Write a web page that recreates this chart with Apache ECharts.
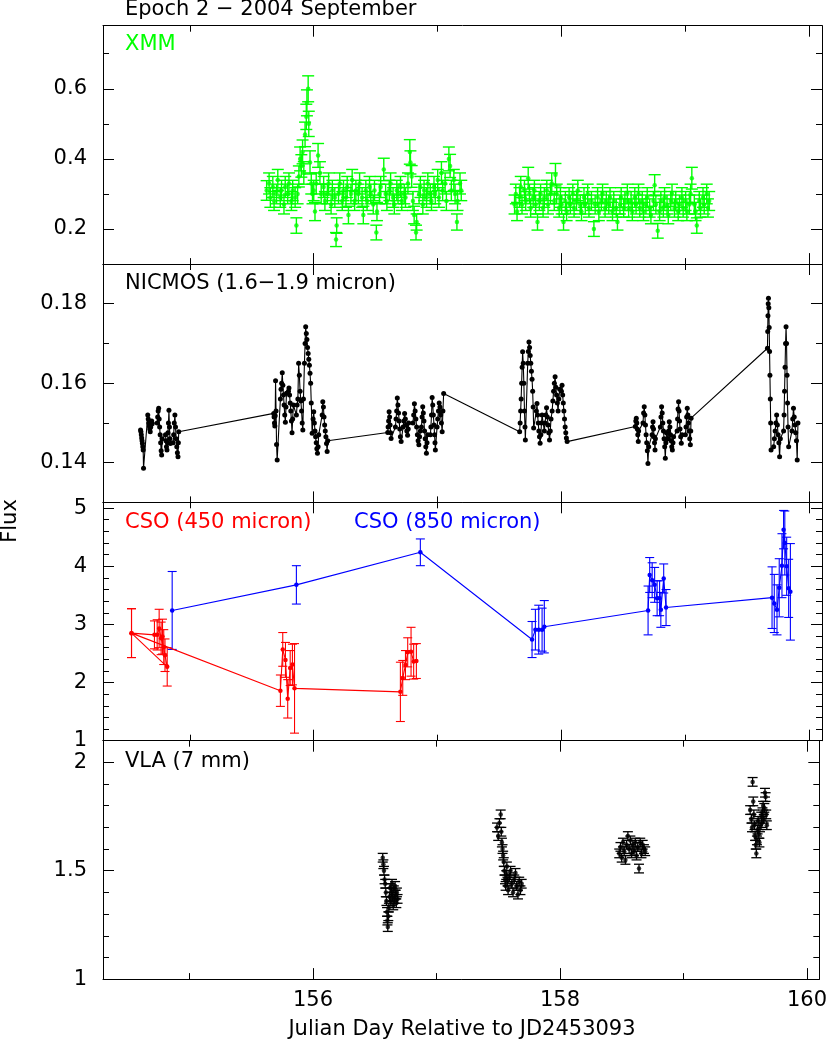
<!DOCTYPE html>
<html><head><meta charset="utf-8">
<script src="https://cdn.jsdelivr.net/npm/echarts@6/dist/echarts.min.js"></script>
<style>html,body{margin:0;padding:0;background:#fff}#c{width:830px;height:1043px}</style>
</head><body><div id="c"></div>
<script>
// ---------- tick labels ----------
const xMajorTicks = [156, 158, 160];
const xMinorTicks = [155, 157, 159];
const xmmYMajor = [0.2, 0.4, 0.6];
const xmmYMinor = [0.1, 0.3, 0.5, 0.7];
const nicYMajor = [0.14, 0.16, 0.18];
const nicYMinor = [0.13, 0.15, 0.17, 0.19];
const csoYMajor = [1, 2, 3, 4, 5];
const csoYMinor = [1.2,1.4,1.6,1.8,2.2,2.4,2.6,2.8,3.2,3.4,3.6,3.8,4.2,4.4,4.6,4.8];
const vlaYMajor = [1, 1.5, 2];
const vlaYMinor = [1.1,1.2,1.3,1.4,1.6,1.7,1.8,1.9];

// ---------- data: [JD-2453093, flux, error] ----------
const xmmSeg1 = [
[155.62,0.31,0.028],[155.64,0.33,0.03],[155.65,0.29,0.028],[155.67,0.32,0.03],[155.68,0.28,0.027],[155.70,0.30,0.028],[155.71,0.34,0.03],[155.73,0.29,0.028],[155.74,0.31,0.029],[155.76,0.27,0.027],[155.77,0.32,0.03],[155.79,0.30,0.028],[155.80,0.33,0.03],[155.82,0.28,0.027],[155.83,0.31,0.029],[155.85,0.29,0.028],[155.86,0.21,0.022],[155.87,0.30,0.028],[155.88,0.35,0.03],[155.89,0.40,0.034],[155.90,0.38,0.032],[155.91,0.42,0.034],[155.92,0.36,0.032],[155.93,0.47,0.035],[155.94,0.52,0.036],[155.945,0.56,0.037],[155.955,0.60,0.037],[155.96,0.50,0.036],[155.97,0.39,0.033],[155.98,0.33,0.03],[155.99,0.30,0.028],[156.00,0.31,0.029],[156.01,0.25,0.026],[156.02,0.33,0.03],[156.035,0.41,0.034],[156.05,0.36,0.032],[156.06,0.30,0.028],[156.08,0.32,0.03],[156.09,0.28,0.027],[156.11,0.30,0.028],[156.12,0.33,0.03],[156.14,0.27,0.027],[156.15,0.31,0.029],[156.17,0.29,0.028],[156.18,0.17,0.02],[156.185,0.21,0.022],[156.20,0.30,0.028],[156.21,0.33,0.03],[156.23,0.28,0.027],[156.24,0.31,0.029],[156.26,0.29,0.028],[156.27,0.32,0.03],[156.28,0.24,0.025],[156.30,0.30,0.028],[156.31,0.34,0.03],[156.33,0.28,0.027],[156.34,0.31,0.029],[156.36,0.30,0.028],[156.37,0.33,0.03],[156.39,0.29,0.028],[156.40,0.24,0.025],[156.42,0.31,0.029],[156.43,0.28,0.027],[156.45,0.32,0.03],[156.46,0.30,0.028],[156.48,0.27,0.027],[156.49,0.31,0.029],[156.505,0.19,0.021],[156.51,0.25,0.026],[156.53,0.30,0.028],[156.54,0.32,0.03],[156.565,0.37,0.032],[156.58,0.30,0.028],[156.59,0.28,0.027],[156.61,0.31,0.029],[156.62,0.33,0.03],[156.64,0.29,0.028],[156.65,0.27,0.027],[156.67,0.31,0.029],[156.68,0.30,0.028],[156.70,0.32,0.03],[156.71,0.28,0.027],[156.73,0.30,0.028],[156.74,0.29,0.028],[156.76,0.33,0.03],[156.775,0.42,0.035],[156.78,0.39,0.033],[156.79,0.35,0.031],[156.80,0.28,0.027],[156.81,0.24,0.025],[156.825,0.19,0.021],[156.83,0.22,0.023],[156.85,0.30,0.028],[156.86,0.32,0.03],[156.88,0.27,0.027],[156.89,0.31,0.029],[156.91,0.29,0.028],[156.92,0.33,0.03],[156.94,0.30,0.028],[156.95,0.28,0.027],[156.97,0.32,0.03],[156.98,0.30,0.028],[157.00,0.34,0.03],[157.01,0.29,0.028],[157.03,0.36,0.032],[157.04,0.31,0.029],[157.06,0.33,0.03],[157.07,0.28,0.027],[157.09,0.40,0.034],[157.10,0.38,0.033],[157.11,0.31,0.029],[157.13,0.34,0.03],[157.14,0.30,0.028],[157.155,0.22,0.023],[157.16,0.28,0.027],[157.18,0.33,0.03],[157.19,0.31,0.029]
];
const xmmSeg2 = [
[157.62,0.27,0.027],[157.63,0.30,0.028],[157.64,0.25,0.026],[157.66,0.29,0.028],[157.67,0.32,0.03],[157.68,0.27,0.027],[157.70,0.31,0.029],[157.71,0.28,0.027],[157.73,0.345,0.031],[157.74,0.30,0.028],[157.75,0.26,0.026],[157.77,0.29,0.028],[157.78,0.31,0.029],[157.79,0.27,0.027],[157.805,0.22,0.023],[157.82,0.28,0.027],[157.83,0.30,0.028],[157.85,0.26,0.026],[157.86,0.29,0.028],[157.88,0.31,0.029],[157.89,0.27,0.027],[157.91,0.30,0.028],[157.92,0.33,0.03],[157.94,0.28,0.027],[157.95,0.355,0.032],[157.96,0.30,0.028],[157.98,0.26,0.026],[157.99,0.29,0.028],[158.00,0.27,0.027],[158.015,0.22,0.023],[158.03,0.28,0.027],[158.04,0.25,0.026],[158.06,0.29,0.028],[158.07,0.27,0.027],[158.09,0.30,0.028],[158.10,0.26,0.026],[158.12,0.28,0.027],[158.13,0.31,0.029],[158.15,0.27,0.027],[158.16,0.25,0.026],[158.18,0.29,0.028],[158.19,0.27,0.027],[158.21,0.30,0.028],[158.22,0.26,0.026],[158.24,0.28,0.027],[158.26,0.20,0.021],[158.27,0.27,0.027],[158.29,0.29,0.028],[158.30,0.25,0.026],[158.32,0.28,0.027],[158.33,0.30,0.028],[158.35,0.26,0.026],[158.36,0.28,0.027],[158.38,0.27,0.027],[158.39,0.29,0.028],[158.41,0.25,0.026],[158.42,0.28,0.027],[158.44,0.26,0.026],[158.45,0.22,0.023],[158.47,0.27,0.027],[158.48,0.29,0.028],[158.50,0.26,0.026],[158.51,0.28,0.027],[158.53,0.30,0.028],[158.54,0.26,0.026],[158.56,0.28,0.027],[158.57,0.25,0.026],[158.59,0.29,0.028],[158.60,0.27,0.027],[158.62,0.30,0.028],[158.63,0.26,0.026],[158.65,0.28,0.027],[158.66,0.25,0.026],[158.68,0.27,0.027],[158.69,0.29,0.028],[158.71,0.26,0.026],[158.72,0.24,0.025],[158.74,0.28,0.027],[158.75,0.325,0.03],[158.76,0.27,0.027],[158.775,0.195,0.021],[158.79,0.25,0.026],[158.80,0.28,0.027],[158.82,0.26,0.026],[158.83,0.29,0.028],[158.85,0.27,0.027],[158.86,0.24,0.025],[158.88,0.28,0.027],[158.89,0.30,0.028],[158.91,0.26,0.026],[158.92,0.28,0.027],[158.94,0.25,0.026],[158.95,0.27,0.027],[158.97,0.29,0.028],[158.98,0.26,0.026],[159.00,0.28,0.027],[159.01,0.25,0.026],[159.03,0.27,0.027],[159.04,0.30,0.028],[159.05,0.345,0.031],[159.07,0.27,0.027],[159.08,0.25,0.026],[159.09,0.21,0.022],[159.11,0.28,0.027],[159.12,0.26,0.026],[159.14,0.29,0.028],[159.15,0.27,0.027],[159.17,0.30,0.028],[159.18,0.26,0.026],[159.19,0.28,0.027]
];

const nicmos = [
[154.603,0.1482],[154.606,0.1478],[154.609,0.1470],[154.612,0.1462],[154.615,0.1455],[154.618,0.1448],[154.621,0.1440],[154.624,0.1432],[154.627,0.1386],
[154.661,0.1520],[154.665,0.1510],[154.669,0.1500],[154.673,0.1492],[154.677,0.1485],[154.681,0.1478],[154.685,0.1490],[154.689,0.1500],[154.693,0.1505],[154.697,0.1498],
[154.737,0.1500],[154.741,0.1515],[154.745,0.1530],[154.749,0.1537],[154.753,0.1510],[154.757,0.1490],[154.761,0.1470],[154.765,0.1450],[154.769,0.1430],[154.773,0.1419],[154.777,0.1460],
[154.804,0.1470],[154.808,0.1455],[154.812,0.1440],[154.816,0.1432],[154.820,0.1450],[154.824,0.1475],[154.828,0.1500],[154.832,0.1532],[154.836,0.1490],[154.840,0.1460],[154.844,0.1448],
[154.866,0.1450],[154.870,0.1470],[154.875,0.1500],[154.880,0.1520],[154.885,0.1490],[154.890,0.1460],[154.895,0.1440],[154.900,0.1425],[154.905,0.1415],[154.908,0.1450],[154.911,0.1478],
[155.677,0.1524],[155.680,0.1515],[155.683,0.1500],[155.686,0.1492],[155.689,0.1518],[155.692,0.1606],[155.696,0.1530],[155.700,0.1446],[155.705,0.1407],
[155.731,0.1560],[155.736,0.1585],[155.741,0.1600],[155.746,0.1626],[155.751,0.1595],[155.756,0.1570],[155.761,0.1545],[155.766,0.1520],[155.771,0.1502],[155.776,0.1540],[155.780,0.1575],
[155.796,0.1580],[155.800,0.1588],[155.805,0.1570],[155.810,0.1550],[155.815,0.1530],[155.820,0.1505],[155.825,0.1475],[155.830,0.1510],[155.836,0.1545],
[155.860,0.1520],[155.866,0.1545],[155.872,0.1560],[155.878,0.1650],[155.884,0.1620],[155.890,0.1580],[155.896,0.1555],[155.902,0.1530],[155.907,0.1500],[155.912,0.1482],[155.917,0.1560],
[155.925,0.1650],[155.930,0.1700],[155.935,0.1742],[155.940,0.1725],[155.945,0.1710],[155.950,0.1690],[155.955,0.1675],[155.960,0.1660],[155.965,0.1645],[155.970,0.1625],[155.975,0.1600],[155.980,0.1550],[155.987,0.1474],
[155.995,0.1510],[156.000,0.1528],[156.005,0.1500],[156.010,0.1480],[156.015,0.1465],[156.020,0.1450],[156.025,0.1435],[156.030,0.1424],[156.035,0.1440],[156.040,0.1470],
[156.068,0.1520],[156.073,0.1553],[156.078,0.1540],[156.083,0.1515],[156.088,0.1495],[156.093,0.1480],[156.098,0.1465],[156.103,0.1448],[156.108,0.1428],[156.113,0.1455],
[156.597,0.1476],[156.600,0.1490],[156.604,0.1505],[156.608,0.1528],[156.612,0.1515],[156.616,0.1495],[156.620,0.1475],[156.624,0.1461],
[156.659,0.1490],[156.664,0.1510],[156.669,0.1530],[156.674,0.1563],[156.679,0.1545],[156.684,0.1525],[156.689,0.1505],[156.694,0.1485],[156.699,0.1465],[156.705,0.1453],
[156.721,0.1490],[156.727,0.1505],[156.733,0.1524],[156.739,0.1510],[156.745,0.1495],[156.751,0.1480],[156.757,0.1469],[156.762,0.1485],[156.766,0.1500],
[156.800,0.1500],[156.806,0.1520],[156.812,0.1548],[156.818,0.1530],[156.824,0.1510],[156.830,0.1490],[156.836,0.1470],[156.842,0.1455],[156.848,0.1445],[156.854,0.1465],[156.860,0.1480],
[156.869,0.1490],[156.874,0.1515],[156.879,0.1541],[156.884,0.1525],[156.889,0.1505],[156.894,0.1480],[156.899,0.1460],[156.904,0.1440],[156.909,0.1424],[156.914,0.1450],[156.919,0.1470],
[156.941,0.1470],[156.945,0.1490],[156.950,0.1520],[156.955,0.1564],[156.960,0.1545],[156.965,0.1520],[156.970,0.1495],[156.975,0.1470],[156.978,0.1450],[156.981,0.1432],
[156.995,0.1490],[157.000,0.1510],[157.006,0.1530],[157.012,0.1550],[157.018,0.1540],[157.024,0.1520],[157.030,0.1500],[157.036,0.1478],[157.042,0.1530],[157.048,0.1574],
[157.661,0.1478],[157.665,0.1500],[157.669,0.1530],[157.673,0.1560],[157.677,0.1600],[157.681,0.1640],[157.685,0.1679],[157.690,0.1650],[157.695,0.1600],[157.700,0.1530],[157.704,0.1490],[157.707,0.1457],
[157.726,0.1650],[157.731,0.1680],[157.736,0.1704],[157.741,0.1690],[157.746,0.1670],[157.751,0.1650],[157.756,0.1630],[157.761,0.1610],[157.766,0.1580],[157.770,0.1540],[157.774,0.1487],
[157.796,0.1530],[157.801,0.1549],[157.806,0.1520],[157.811,0.1500],[157.816,0.1480],[157.821,0.1465],[157.826,0.1449],[157.832,0.1470],[157.837,0.1500],[157.842,0.1520],
[157.860,0.1480],[157.866,0.1500],[157.872,0.1520],[157.878,0.1538],[157.884,0.1515],[157.890,0.1495],[157.896,0.1475],[157.902,0.1457],[157.908,0.1480],[157.914,0.1510],
[157.923,0.1530],[157.929,0.1555],[157.935,0.1580],[157.941,0.1600],[157.947,0.1616],[157.953,0.1590],[157.959,0.1570],[157.965,0.1550],[157.971,0.1530],[157.977,0.1560],[157.984,0.1585],
[157.998,0.1580],[158.003,0.1595],[158.008,0.1570],[158.013,0.1550],[158.018,0.1530],[158.023,0.1510],[158.028,0.1490],[158.033,0.1475],[158.038,0.1462],[158.044,0.1453],
[158.594,0.1491],[158.598,0.1505],[158.602,0.1512],[158.606,0.1500],[158.610,0.1485],[158.614,0.1470],[158.618,0.1453],[158.621,0.1480],
[158.656,0.1500],[158.661,0.1525],[158.666,0.1541],[158.671,0.1520],[158.676,0.1495],[158.681,0.1470],[158.686,0.1450],[158.691,0.1430],[158.696,0.1398],[158.702,0.1440],
[158.729,0.1470],[158.733,0.1490],[158.737,0.1503],[158.741,0.1485],[158.745,0.1465],[158.749,0.1450],[158.753,0.1432],[158.756,0.1460],
[158.796,0.1490],[158.801,0.1515],[158.806,0.1541],[158.811,0.1525],[158.816,0.1500],[158.821,0.1480],[158.826,0.1460],[158.831,0.1440],[158.836,0.1411],[158.841,0.1450],[158.845,0.1475],
[158.858,0.1460],[158.863,0.1480],[158.868,0.1503],[158.873,0.1490],[158.878,0.1470],[158.883,0.1455],[158.888,0.1440],[158.893,0.1432],[158.898,0.1450],[158.903,0.1465],
[158.931,0.1480],[158.935,0.1510],[158.939,0.1535],[158.943,0.1553],[158.947,0.1530],[158.951,0.1505],[158.955,0.1485],[158.960,0.1465],[158.965,0.1449],[158.971,0.1470],
[158.998,0.1470],[159.003,0.1490],[159.008,0.1515],[159.013,0.1537],[159.018,0.1520],[159.023,0.1500],[159.028,0.1480],[159.033,0.1460],[159.038,0.1445],[159.041,0.1480],[159.044,0.1512],
[159.660,0.1688],[159.662,0.1730],[159.664,0.1770],[159.666,0.1800],[159.668,0.1814],[159.671,0.1790],[159.674,0.1740],[159.677,0.1680],[159.680,0.1620],[159.683,0.1560],[159.686,0.1500],[159.689,0.1432],
[159.710,0.1440],[159.716,0.1460],[159.722,0.1480],[159.728,0.1500],[159.734,0.1520],[159.740,0.1495],[159.746,0.1470],[159.752,0.1450],[159.758,0.1415],[159.764,0.1460],
[159.790,0.1480],[159.794,0.1520],[159.798,0.1580],[159.802,0.1640],[159.806,0.1700],[159.810,0.1742],[159.814,0.1700],[159.818,0.1620],[159.822,0.1550],[159.826,0.1490],[159.831,0.1440],
[159.858,0.1480],[159.864,0.1510],[159.870,0.1537],[159.876,0.1515],[159.882,0.1495],[159.888,0.1475],[159.894,0.1455],[159.900,0.1407],[159.906,0.1500]
];

const cso450 = [
[154.53,2.85,0.42],
[154.715,2.82,0.24],[154.737,2.82,0.26],[154.753,2.93,0.33],[154.769,2.76,0.28],[154.78,2.79,0.3],[154.79,2.61,0.3],[154.80,2.47,0.28],[154.818,2.27,0.33],
[154.53,2.85,0.42],
[155.731,1.86,0.27],[155.75,2.57,0.29],[155.772,2.39,0.3],[155.79,1.72,0.33],[155.81,2.25,0.3],[155.828,2.31,0.35],[155.845,1.90,0.77],
[156.699,1.84,0.51],[156.718,2.08,0.3],[156.74,2.30,0.25],[156.758,2.52,0.25],[156.785,2.53,0.42],[156.806,2.36,0.3],[156.828,2.37,0.3]
];
const cso850 = [
[154.858,3.24,0.67],[155.86,3.68,0.33],[156.86,4.24,0.23],
[157.761,2.74,0.31],[157.788,2.91,0.35],[157.815,2.91,0.42],[157.842,2.91,0.37],[157.86,2.96,0.45],
[158.697,3.24,0.42],[158.71,3.85,0.3],[158.73,3.76,0.3],[158.75,3.68,0.3],[158.77,3.45,0.3],[158.79,3.45,0.3],[158.80,3.25,0.3],[158.823,3.79,0.25],[158.842,3.29,0.31],
[159.697,3.46,0.53],[159.715,3.36,0.5],[159.737,3.25,0.43],[159.755,3.63,0.5],[159.777,4.01,0.55],[159.79,4.63,0.33],[159.80,4.40,0.55],[159.815,4.0,0.5],[159.831,3.62,0.5],[159.845,3.56,0.83]
];

const vla = [
[156.565,1.56,0.02],[156.57,1.53,0.02],[156.575,1.50,0.02],[156.58,1.46,0.02],[156.585,1.44,0.02],[156.59,1.40,0.02],[156.595,1.36,0.02],[156.60,1.31,0.02],[156.603,1.27,0.02],[156.606,1.24,0.02],[156.61,1.29,0.02],[156.615,1.33,0.02],[156.62,1.38,0.02],[156.625,1.42,0.02],[156.63,1.36,0.02],[156.635,1.40,0.02],[156.64,1.44,0.02],[156.645,1.38,0.02],[156.65,1.34,0.02],[156.655,1.41,0.02],[156.66,1.37,0.02],[156.665,1.43,0.02],[156.67,1.39,0.02],[156.675,1.35,0.02],[156.68,1.40,0.02],[156.685,1.37,0.02],
[157.49,1.70,0.02],[157.50,1.66,0.02],[157.51,1.72,0.02],[157.52,1.76,0.02],[157.525,1.68,0.02],[157.53,1.63,0.02],[157.535,1.60,0.02],[157.54,1.57,0.02],[157.545,1.54,0.02],[157.55,1.50,0.02],[157.555,1.46,0.02],[157.56,1.43,0.02],[157.565,1.48,0.02],[157.57,1.52,0.02],[157.575,1.45,0.02],[157.58,1.41,0.02],[157.59,1.47,0.02],[157.60,1.50,0.02],[157.61,1.44,0.02],[157.62,1.40,0.02],[157.63,1.46,0.02],[157.64,1.49,0.02],[157.65,1.43,0.02],[157.66,1.39,0.02],[157.67,1.45,0.02],[157.68,1.41,0.02],[157.69,1.44,0.02],
[158.48,1.58,0.02],[158.49,1.61,0.02],[158.50,1.56,0.02],[158.51,1.63,0.02],[158.52,1.59,0.02],[158.53,1.55,0.02],[158.54,1.62,0.02],[158.55,1.66,0.02],[158.56,1.60,0.02],[158.57,1.64,0.02],[158.58,1.58,0.02],[158.59,1.62,0.02],[158.60,1.59,0.02],[158.61,1.63,0.02],[158.62,1.57,0.02],[158.63,1.61,0.02],[158.64,1.51,0.02],[158.65,1.63,0.02],[158.66,1.58,0.02],[158.67,1.62,0.02],[158.68,1.60,0.02],[158.69,1.59,0.02],
[159.54,1.78,0.02],[159.55,1.74,0.02],[159.555,1.70,0.02],[159.56,1.91,0.02],[159.565,1.82,0.02],[159.57,1.76,0.02],[159.575,1.71,0.02],[159.58,1.66,0.02],[159.585,1.62,0.02],[159.59,1.58,0.02],[159.595,1.64,0.02],[159.60,1.69,0.02],[159.605,1.73,0.02],[159.61,1.67,0.02],[159.615,1.63,0.02],[159.62,1.70,0.02],[159.63,1.75,0.02],[159.635,1.72,0.02],[159.64,1.77,0.02],[159.645,1.80,0.02],[159.65,1.74,0.02],[159.655,1.79,0.02],[159.66,1.86,0.02],[159.665,1.84,0.02],[159.67,1.76,0.02],[159.675,1.71,0.02]
];

// ---------- layout ----------
const FONT = 'DejaVu Sans';
const X_MIN = 154.3, X_MAX = 160.1;
const GRID_TOPS = [25.7, 264, 502.3, 740.7];
const GRID_H = 238.4;
const panelY = [
  {min:0.1, max:0.78, major:xmmYMajor, minor:xmmYMinor},
  {min:0.13, max:0.19, major:nicYMajor, minor:nicYMinor},
  {min:1, max:5.1, major:csoYMajor, minor:csoYMinor},
  {min:1, max:2.1, major:vlaYMajor, minor:vlaYMinor}
];
const fmt = v => String(Math.round(v * 1000) / 1000);
const tickStyle = {color:'#000', width:1};
const lineAx = {show:true, onZero:false, lineStyle:{color:'#000', width:1}};

const grids = [], xAxes = [], yAxes = [];
GRID_TOPS.forEach((t, g) => {
  grids.push({left:103, width:719, top:t, height:GRID_H, containLabel:false});
  const xb = {gridIndex:g, type:'value', min:X_MIN, max:X_MAX, splitLine:{show:false}, axisLabel:{show:false}, axisLine:lineAx};
  xAxes.push({...xb, position:'bottom',
    axisTick:{show:true, inside:true, length:11, customValues:xMajorTicks, lineStyle:tickStyle},
    axisLabel: g === 3 ? {show:true, customValues:xMajorTicks, margin:11, color:'#000', fontFamily:FONT, fontSize:21, formatter:fmt} : {show:false}});
  xAxes.push({...xb, position:'bottom', axisLine:{show:false},
    axisTick:{show:true, inside:true, length:6, customValues:xMinorTicks, lineStyle:tickStyle}});
  xAxes.push({...xb, position:'top',
    axisTick:{show:true, inside:true, length:11, customValues:xMajorTicks, lineStyle:tickStyle}});
  xAxes.push({...xb, position:'top', axisLine:{show:false},
    axisTick:{show:true, inside:true, length:6, customValues:xMinorTicks, lineStyle:tickStyle}});
  const p = panelY[g];
  const yb = {gridIndex:g, type:'value', min:p.min, max:p.max, splitLine:{show:false}, axisLabel:{show:false}, axisLine:lineAx};
  yAxes.push({...yb, position:'left',
    axisTick:{show:true, inside:true, length:11, customValues:p.major, lineStyle:tickStyle},
    axisLabel:{show:true, customValues:p.major, margin:16, color:'#000', fontFamily:FONT, fontSize:21, formatter:fmt}});
  yAxes.push({...yb, position:'left', axisLine:{show:false},
    axisTick:{show:true, inside:true, length:6, customValues:p.minor, lineStyle:tickStyle}});
  yAxes.push({...yb, position:'right',
    axisTick:{show:true, inside:true, length:11, customValues:p.major, lineStyle:tickStyle}});
  yAxes.push({...yb, position:'right', axisLine:{show:false},
    axisTick:{show:true, inside:true, length:6, customValues:p.minor, lineStyle:tickStyle}});
});

function errorBars(data, g, color, cap, lw) {
  return {
    type:'custom', xAxisIndex:g*4, yAxisIndex:g*4, data:data, silent:true,
    dimensions:['x','y','e'], encode:{x:'x', y:'y'},
    renderItem:function(params, api){
      const x = api.value(0), y = api.value(1), e = api.value(2);
      const hi = api.coord([x, y + e]), lo = api.coord([x, y - e]);
      const st = {stroke:color, lineWidth:lw};
      return {type:'group', children:[
        {type:'line', shape:{x1:hi[0], y1:hi[1], x2:lo[0], y2:lo[1]}, style:st},
        {type:'line', shape:{x1:hi[0]-cap, y1:hi[1], x2:hi[0]+cap, y2:hi[1]}, style:st},
        {type:'line', shape:{x1:lo[0]-cap, y1:lo[1], x2:lo[0]+cap, y2:lo[1]}, style:st}
      ]};
    }
  };
}
function dots(data, g, color, size) {
  return {type:'scatter', xAxisIndex:g*4, yAxisIndex:g*4, data:data, symbol:'circle', symbolSize:size,
    itemStyle:{color:color}, silent:true};
}
function linePts(data, g, color, size) {
  return {type:'line', xAxisIndex:g*4, yAxisIndex:g*4, data:data, symbol:'circle', symbolSize:size, showSymbol:true,
    lineStyle:{color:color, width:1.1}, itemStyle:{color:color}, silent:true};
}

const xmmAll = xmmSeg1.concat(xmmSeg2);
const series = [
  errorBars(xmmAll, 0, '#00ff00', 6, 1.4), dots(xmmAll, 0, '#00ff00', 4.5),
  linePts(nicmos, 1, '#000', 5),
  errorBars(cso450, 2, '#ff0000', 4.5, 1.1), linePts(cso450, 2, '#ff0000', 4.5),
  errorBars(cso850, 2, '#0000ff', 4.5, 1.1), linePts(cso850, 2, '#0000ff', 4.5),
  errorBars(vla, 3, '#000', 5, 1.3), dots(vla, 3, '#000', 4.5)
];

function txt(text, x, y, color) {
  return {type:'text', silent:true, style:{text:text, x:x, y:y, fill:color,
    font:'21px "' + FONT + '"', textAlign:'left', textVerticalAlign:'middle'}};
}
const graphics = [
  txt('Epoch 2 \u2212 2004 September', 125, 9.5, '#000'),
  txt('XMM', 125, 45, '#00ff00'),
  txt('NICMOS (1.6\u22121.9 micron)', 125, 283.5, '#000'),
  txt('CSO (450 micron)', 125, 522.5, '#ff0000'),
  txt('CSO (850 micron)', 354, 522.5, '#0000ff'),
  txt('VLA (7 mm)', 125, 761.5, '#000'),
  {type:'text', silent:true, style:{text:'Julian Day Relative to JD2453093', x:462, y:1029.5, fill:'#000',
    font:'21px "' + FONT + '"', textAlign:'center', textVerticalAlign:'middle'}},
  {type:'text', silent:true, x:11, y:521, rotation:Math.PI/2, style:{text:'Flux', x:0, y:0, fill:'#000',
    font:'21px "' + FONT + '"', textAlign:'center', textVerticalAlign:'middle'}}
];

const chart = echarts.init(document.getElementById('c'), null, {renderer:'canvas'});
chart.setOption({
  animation:false,
  backgroundColor:'#fff',
  grid:grids, xAxis:xAxes, yAxis:yAxes,
  series:series,
  graphic:graphics
});
</script></body></html>
